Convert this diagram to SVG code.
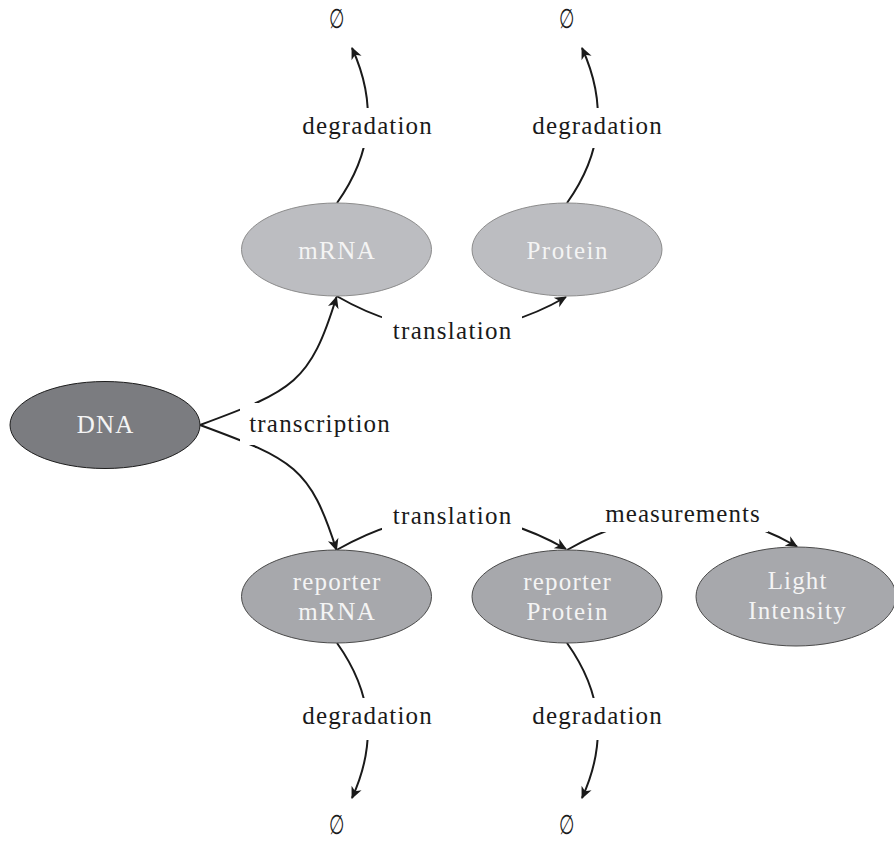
<svg xmlns="http://www.w3.org/2000/svg" width="894" height="841" viewBox="0 0 894 841">
<defs>
<marker id="arr" markerUnits="userSpaceOnUse" markerWidth="16" markerHeight="14" viewBox="-13 -7 16 14" refX="0" refY="0" orient="auto">
<path d="M1,0 L-11,-5.5 L-7.5,0 L-11,5.5 Z" fill="#1a1a1a"/>
</marker>
</defs>
<style>
text { font-family: "Liberation Serif", "Times New Roman", serif; font-size: 25px; text-anchor: middle; }
.lbl { fill: #1a1a1a; }
.ntx { fill: #f4f4f4; }
.bg { fill: #ffffff; }
.edge { fill: none; stroke: #1a1a1a; stroke-width: 2; }
.arrow { marker-end: url(#arr); }
.dark { fill: #7b7c80; stroke: #1e1e1e; stroke-width: 1; }
.light { fill: #bcbdc1; stroke: #8c8c8c; stroke-width: 1; }
.mid { fill: #a7a8ac; stroke: #4a4a4a; stroke-width: 1; }
.empty { font-family: "DejaVu Serif", "Liberation Serif", serif; font-size: 21px; fill: #1a1a1a; }
</style>
<rect width="894" height="841" fill="#ffffff"/>

<g id="connectors">
<path class="edge arrow" d="M200,425 C293.8,390.4 310,383 336.5,297"/>
<path class="edge arrow" d="M200,425 C293.8,459.6 310,467 336.5,550"/>
<path class="edge arrow" d="M336.5,296 C414.5,341 489,341 566,297"/>
<path class="edge arrow" d="M336.5,550 C414.5,505 489,505 566,549"/>
<path class="edge arrow" d="M567,550 C645,505 719,502 797,546.5"/>
<path class="edge arrow" d="M337,203 C372.4,153.4 377.3,103.5 352,48"/>
<path class="edge arrow" d="M567,203 C602.4,153.4 607.3,103.5 582,48"/>
<path class="edge arrow" d="M337,643 C372.4,692.6 377.3,742.5 352,798"/>
<path class="edge arrow" d="M567,643 C602.4,692.6 607.3,742.5 582,798"/>

<g id="lbl-transcription">
<rect class="bg" x="240" y="403" width="157" height="42"/>
<text class="lbl" x="319.5" y="431.5" textLength="140.6">transcription</text>
</g>
<g id="lbl-translation-top">
<rect class="bg" x="382" y="316" width="140" height="30"/>
<text class="lbl" x="452" y="338.5" textLength="118.3">translation</text>
</g>
<g id="lbl-translation-bottom">
<rect class="bg" x="382" y="501" width="140" height="31"/>
<text class="lbl" x="452" y="524" textLength="118.3">translation</text>
</g>
<g id="lbl-measurements">
<rect class="bg" x="600" y="499" width="168" height="33"/>
<text class="lbl" x="682.5" y="522" textLength="154.5">measurements</text>
</g>
<g id="lbl-deg-mrna">
<rect class="bg" x="300" y="108" width="134" height="40"/>
<text class="lbl" x="367" y="133.5" textLength="129.3">degradation</text>
</g>
<g id="lbl-deg-protein">
<rect class="bg" x="530" y="108" width="134" height="40"/>
<text class="lbl" x="597" y="133.5" textLength="129.3">degradation</text>
</g>
<g id="lbl-deg-rmrna">
<rect class="bg" x="300" y="698" width="134" height="42"/>
<text class="lbl" x="367" y="724" textLength="129.3">degradation</text>
</g>
<g id="lbl-deg-rprotein">
<rect class="bg" x="530" y="698" width="134" height="42"/>
<text class="lbl" x="597" y="724" textLength="129.3">degradation</text>
</g>
</g>

<g id="node-dna">
<ellipse class="dark" cx="105" cy="425" rx="95" ry="43.5"/>
<text class="ntx" x="105" y="432.5" textLength="56.6">DNA</text>
</g>
<g id="node-mrna">
<ellipse class="light" cx="336.5" cy="249.5" rx="95" ry="46.5"/>
<text class="ntx" x="336.5" y="259" textLength="76.7">mRNA</text>
</g>
<g id="node-protein">
<ellipse class="light" cx="567" cy="249.5" rx="95" ry="46.5"/>
<text class="ntx" x="567" y="259" textLength="81">Protein</text>
</g>
<g id="node-reporter-mrna">
<ellipse class="mid" cx="336.5" cy="596.5" rx="95" ry="46.5"/>
<text class="ntx" x="336.5" y="590" textLength="87.7">reporter</text>
<text class="ntx" x="336.5" y="620" textLength="76.7">mRNA</text>
</g>
<g id="node-reporter-protein">
<ellipse class="mid" cx="567" cy="596.5" rx="95" ry="46.5"/>
<text class="ntx" x="567" y="590" textLength="87.7">reporter</text>
<text class="ntx" x="567" y="620" textLength="81">Protein</text>
</g>
<g id="node-light">
<ellipse class="mid" cx="796" cy="596.5" rx="100" ry="49.5"/>
<text class="ntx" x="797" y="589" textLength="58.7">Light</text>
<text class="ntx" x="797" y="619" textLength="97.4">Intensity</text>
</g>
<g id="sink-mrna">
<text class="empty" transform="translate(337,27.5) scale(0.85,1.3)">∅</text>
</g>
<g id="sink-protein">
<text class="empty" transform="translate(567,27.5) scale(0.85,1.3)">∅</text>
</g>
<g id="sink-rmrna">
<text class="empty" transform="translate(337,833.5) scale(0.85,1.3)">∅</text>
</g>
<g id="sink-rprotein">
<text class="empty" transform="translate(567,833.5) scale(0.85,1.3)">∅</text>
</g>
</svg>
